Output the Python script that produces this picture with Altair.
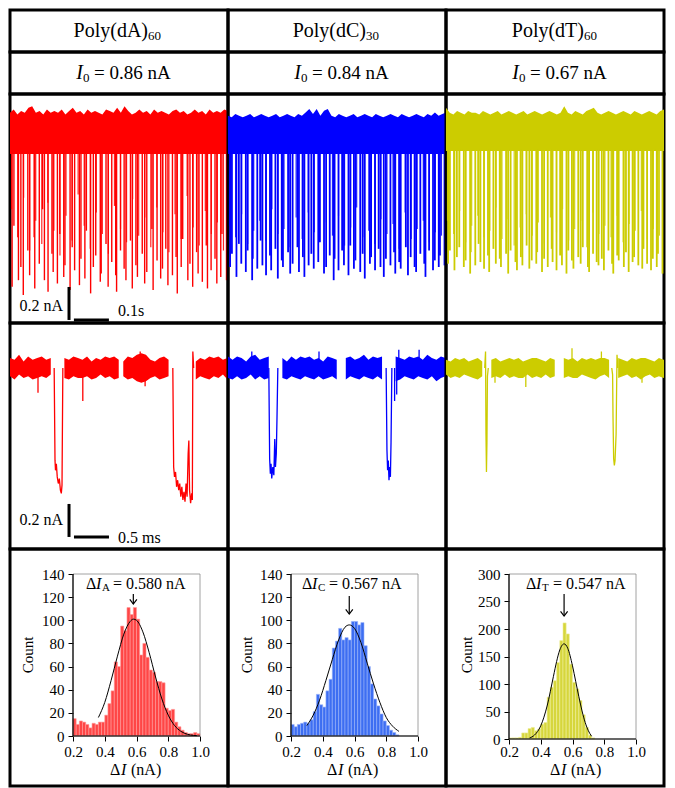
import altair as alt
import pandas as pd

FONT = "Liberation Serif"
TRACE_COLORS = ["#FF0000", "#0000FF", "#CCCC00"]
BAR_FILL = ["#FF4646", "#3D6EF2", "#D6D63C"]
BAR_EDGE = ["#FF9A9A", "#9AB4F8", "#EEEE9A"]

# ---------------- text ----------------
names = ["Poly(dA)", "Poly(dC)", "Poly(dT)"]
name_subs = ["60", "30", "60"]
i0_text = ["= 0.86 nA", "= 0.84 nA", "= 0.67 nA"]
dI_subs = ["A", "C", "T"]
dI_text = ["= 0.580 nA", "= 0.567 nA", "= 0.547 nA"]
dI_mean = [0.580, 0.567, 0.547]

# ---------------- row 3 : long traces (nA relative to open pore) ----------------
band_top = [0.115, 0.097, 0.115]
band_bot = [-0.115, -0.115, -0.097]
red_depth = [0.92, 0.55, 0.88, 0.80, 0.97, 0.70, 0.85, 0.62, 0.93, 0.78, 0.45, 0.88,
             0.95, 0.72, 0.83, 0.90, 0.60, 0.86, 0.79, 0.94, 0.68, 0.82, 0.91, 0.75,
             0.87, 0.58, 0.96, 0.80, 0.73, 0.89, 0.84, 0.66, 0.92, 0.77, 0.85, 0.95,
             0.70, 0.81, 0.88, 0.64, 0.93, 0.79, 0.86, 0.72, 0.90, 0.83, 0.57, 0.94,
             0.76, 0.87, 0.81, 0.69, 0.91, 0.85, 0.74, 0.96, 0.80, 0.63, 0.88, 0.78,
             0.92, 0.71, 0.84, 0.89, 0.67, 0.93, 0.82, 0.75, 0.90, 0.86, 0.60, 0.88]
blue_depth = [0.80, 0.72, 0.86, 0.66, 0.78, 0.83, 0.70, 0.88, 0.75, 0.81, 0.64, 0.79,
              0.85, 0.73, 0.82, 0.69, 0.87, 0.76, 0.80, 0.71, 0.84, 0.78, 0.68, 0.83,
              0.74, 0.86, 0.79, 0.72, 0.81, 0.77, 0.65, 0.84, 0.80, 0.73, 0.88, 0.75,
              0.82, 0.70, 0.79, 0.85, 0.67, 0.81, 0.76, 0.83, 0.72, 0.87, 0.78, 0.74,
              0.82, 0.69, 0.80, 0.86, 0.75, 0.79, 0.71, 0.84, 0.77, 0.81, 0.68, 0.85,
              0.74, 0.80, 0.83, 0.72, 0.78, 0.86, 0.70, 0.82, 0.76, 0.80, 0.73, 0.79]
yel_depth = [0.78, 0.70, 0.82, 0.74, 0.68, 0.80, 0.76, 0.84, 0.71, 0.79, 0.66, 0.77,
             0.81, 0.73, 0.83, 0.69, 0.78, 0.75, 0.80, 0.72, 0.84, 0.70, 0.77, 0.82,
             0.74, 0.79, 0.67, 0.81, 0.76, 0.78, 0.71, 0.83, 0.75, 0.80, 0.69, 0.77,
             0.82, 0.73, 0.79, 0.84, 0.70, 0.76, 0.81, 0.74, 0.78, 0.68, 0.80, 0.83,
             0.72, 0.77, 0.79, 0.75, 0.82, 0.70, 0.78, 0.84, 0.73, 0.76, 0.80, 0.71,
             0.83, 0.77, 0.74, 0.79, 0.81, 0.69, 0.78, 0.82, 0.75, 0.80, 0.72, 0.84]
spike_shift = [0.1, -0.3, 0.2, 0.0, -0.2, 0.3, -0.1, 0.4, -0.4, 0.1, 0.2, -0.2,
               0.0, 0.3, -0.3, 0.1, -0.1, 0.2, -0.4, 0.3, 0.0, -0.2, 0.4, -0.1,
               0.2, -0.3, 0.1, 0.0, -0.2, 0.3, -0.4, 0.2, -0.1, 0.1, 0.4, -0.3,
               0.0, 0.2, -0.2, 0.3, -0.1, 0.1, -0.4, 0.2, 0.0, -0.3, 0.4, -0.2,
               0.1, 0.3, -0.1, 0.0, -0.3, 0.2, 0.4, -0.2, 0.1, -0.4, 0.3, 0.0,
               -0.1, 0.2, -0.3, 0.1, 0.4, -0.2, 0.0, 0.3, -0.1, 0.2, -0.4, 0.1]
red_short = [0.45, 0.62, 0.38, 0.70, 0.52, 0.66, 0.41, 0.58, 0.73, 0.49, 0.64, 0.36,
             0.55, 0.69, 0.47, 0.60, 0.72, 0.43, 0.57, 0.65, 0.39, 0.61, 0.50, 0.68,
             0.44, 0.59, 0.71, 0.48, 0.63, 0.37, 0.56, 0.67, 0.46, 0.60, 0.53, 0.70]
blue_short = [0.55, 0.62, 0.48, 0.66, 0.58, 0.52, 0.64, 0.45, 0.60, 0.57, 0.68, 0.50,
              0.63, 0.47, 0.59, 0.65, 0.53, 0.61, 0.49, 0.67, 0.56, 0.44, 0.62, 0.58,
              0.66, 0.51, 0.60, 0.54, 0.69, 0.47, 0.63, 0.57, 0.52, 0.65, 0.59, 0.61]
yel_short = [0.52, 0.60, 0.46, 0.65, 0.55, 0.49, 0.62, 0.58, 0.44, 0.63, 0.51, 0.67,
             0.56, 0.48, 0.61, 0.53, 0.66, 0.50, 0.59, 0.45, 0.64, 0.57, 0.52, 0.68,
             0.47, 0.60, 0.55, 0.62, 0.49, 0.65, 0.54, 0.58, 0.46, 0.63, 0.57, 0.61]
red_edge = [0.02, 0.04, 0.01, 0.03, 0.02, 0.05, 0.06, 0.02, 0.03, 0.01, 0.04, 0.02,
            0.03, 0.02, 0.04, 0.01, 0.03, 0.05, 0.02, 0.03, 0.01, 0.04, 0.02, 0.03,
            0.02, 0.01, 0.04, 0.03, 0.02, 0.05, 0.02, 0.06, 0.03, 0.01, 0.02, 0.04,
            0.02, 0.03, 0.01, 0.04, 0.02, 0.03, 0.02, 0.01, 0.03, 0.04, 0.02, 0.03,
            0.01, 0.02, 0.04, 0.02, 0.03, 0.01, 0.04, 0.02, 0.03, 0.02, 0.04, 0.03]
blue_edge = [0.02, 0.01, 0.03, 0.02, 0.01, 0.02, 0.03, 0.01, 0.02, 0.03, 0.02, 0.01,
             0.02, 0.03, 0.01, 0.02, 0.03, 0.02, 0.01, 0.03, 0.02, 0.04, 0.06, 0.03,
             0.06, 0.02, 0.05, 0.06, 0.02, 0.01, 0.03, 0.02, 0.01, 0.02, 0.03, 0.01,
             0.02, 0.03, 0.02, 0.01, 0.03, 0.02, 0.01, 0.02, 0.03, 0.02, 0.01, 0.03,
             0.02, 0.01, 0.02, 0.03, 0.02, 0.01, 0.03, 0.02, 0.04, 0.02, 0.03, 0.04]
yel_edge = [0.05, 0.02, 0.01, 0.03, 0.02, 0.01, 0.03, 0.02, 0.02, 0.01, 0.03, 0.02,
            0.01, 0.02, 0.03, 0.01, 0.02, 0.03, 0.02, 0.01, 0.02, 0.03, 0.01, 0.02,
            0.03, 0.02, 0.01, 0.02, 0.03, 0.02, 0.01, 0.02, 0.06, 0.02, 0.01, 0.03,
            0.02, 0.01, 0.03, 0.04, 0.05, 0.02, 0.01, 0.02, 0.03, 0.02, 0.01, 0.02,
            0.03, 0.02, 0.01, 0.03, 0.02, 0.01, 0.02, 0.03, 0.02, 0.01, 0.03, 0.04]
spike_depths = [red_depth, blue_depth, yel_depth]
short_depths = [red_short, blue_short, yel_short]
band_edges = [red_edge, blue_edge, yel_edge]
spike_width = [1.4, 1.8, 1.8]

# scale bars (values: 0.2 nA / 0.1 s and 0.2 nA / 0.5 ms)
sb_na = 0.2
sb_s = 0.1
sb_ms = 0.5

# ---------------- row 4 : single events (ms, nA) ----------------
red_hi = [0.06, 0.05, 0.08, 0.04, 0.07, 0.05, 0.06, 0.07, 0.05, 0.06,
          0.04, 0.07, 0.06, 0.05, 0.07, 0.06, 0.05, 0.07, 0.04, 0.06,
          0.05, 0.07, 0.06, 0.07, 0.05, 0.04, 0.07, 0.06, 0.08, 0.09,
          0.08, 0.05, 0.04, 0.06, 0.07, 0.05, 0.06, 0.07, 0.05, 0.07,
          0.06, 0.04, 0.06, 0.05, 0.07, 0.06, 0.07, 0.05, 0.06, 0.07]
red_lo = [-0.05, -0.07, -0.04, -0.06, -0.05, -0.07, -0.06, -0.05, -0.06, -0.04,
          -0.07, -0.05, -0.06, -0.07, -0.05, -0.06, -0.06, -0.05, -0.07, -0.06,
          -0.04, -0.06, -0.05, -0.07, -0.06, -0.05, -0.07, -0.06, -0.08, -0.09,
          -0.08, -0.06, -0.05, -0.07, -0.06, -0.05, -0.06, -0.04, -0.07, -0.05,
          -0.06, -0.07, -0.05, -0.06, -0.07, -0.05, -0.06, -0.04, -0.07, -0.05]
blue_hi = [0.07, 0.05, 0.07, 0.06, 0.04, 0.07, 0.08, 0.05, 0.06, 0.07,
           0.05, 0.07, 0.06, 0.04, 0.07, 0.05, 0.07, 0.06, 0.07, 0.05,
           0.06, 0.04, 0.07, 0.06, 0.05, 0.07, 0.06, 0.07, 0.05, 0.06,
           0.08, 0.05, 0.07, 0.06, 0.07, 0.08, 0.05, 0.07, 0.06, 0.05,
           0.07, 0.06, 0.07, 0.05, 0.08, 0.06, 0.05, 0.07, 0.06, 0.07]
blue_lo = [-0.06, -0.07, -0.05, -0.07, -0.06, -0.04, -0.07, -0.05, -0.07, -0.06,
           -0.05, -0.07, -0.06, -0.07, -0.05, -0.06, -0.07, -0.05, -0.06, -0.07,
           -0.05, -0.07, -0.06, -0.05, -0.07, -0.06, -0.07, -0.05, -0.06, -0.07,
           -0.05, -0.06, -0.07, -0.05, -0.07, -0.06, -0.07, -0.08, -0.07, -0.05,
           -0.06, -0.07, -0.05, -0.06, -0.07, -0.05, -0.08, -0.06, -0.05, -0.07]
yel_hi = [0.05, 0.04, 0.06, 0.05, 0.06, 0.04, 0.05, 0.06, 0.04, 0.06,
          0.05, 0.06, 0.04, 0.05, 0.06, 0.05, 0.06, 0.04, 0.05, 0.06,
          0.06, 0.05, 0.04, 0.06, 0.05, 0.06, 0.06, 0.05, 0.06, 0.04,
          0.06, 0.05, 0.06, 0.05, 0.06, 0.06, 0.05, 0.06, 0.06, 0.05,
          0.04, 0.06, 0.05, 0.06, 0.06, 0.05, 0.04, 0.06, 0.05, 0.06]
yel_lo = [-0.04, -0.06, -0.05, -0.06, -0.04, -0.05, -0.06, -0.07, -0.05, -0.04,
          -0.06, -0.05, -0.06, -0.04, -0.06, -0.05, -0.06, -0.06, -0.04, -0.06,
          -0.05, -0.06, -0.04, -0.06, -0.05, -0.04, -0.06, -0.05, -0.06, -0.06,
          -0.04, -0.05, -0.06, -0.07, -0.05, -0.04, -0.06, -0.05, -0.06, -0.05,
          -0.04, -0.06, -0.05, -0.07, -0.05, -0.04, -0.06, -0.05, -0.06, -0.05]
# isolated noise spikes on the baseline (time ms, current nA)
red_glitch_t = [0.40, 1.04, 1.86, 1.93]
red_glitch_i = [-0.15, -0.20, 0.10, -0.11]
blue_glitch_t = [0.34, 1.30, 2.38, 2.41, 2.44, 2.73]
blue_glitch_i = [0.10, 0.10, -0.20, -0.16, 0.11, 0.11]
yel_glitch_t = [0.70, 1.14, 1.80, 2.22, 2.80]
yel_glitch_i = [-0.09, -0.115, 0.12, 0.10, -0.09]
glitches = [(red_glitch_t, red_glitch_i), (blue_glitch_t, blue_glitch_i), (yel_glitch_t, yel_glitch_i)]
red_ev1_t = [0.643, 0.650, 0.662, 0.675, 0.690, 0.705, 0.720, 0.733, 0.743]
red_ev1_i = [-0.56, -0.62, -0.58, -0.66, -0.70, -0.67, -0.74, -0.76, -0.71]
red_ev2_t = [2.338, 2.350, 2.365, 2.380, 2.395, 2.410, 2.425, 2.440, 2.455, 2.470, 2.485,
             2.500, 2.515, 2.530, 2.545, 2.555, 2.565, 2.580, 2.595, 2.605, 2.612]
red_ev2_i = [-0.60, -0.66, -0.63, -0.72, -0.68, -0.74, -0.70, -0.78, -0.72, -0.80, -0.75,
             -0.81, -0.70, -0.78, -0.52, -0.44, -0.74, -0.82, -0.76, -0.80, 0.10]
blue_ev1_t = [0.595, 0.605, 0.615, 0.625, 0.640, 0.655, 0.668, 0.678, 0.690, 0.700]
blue_ev1_i = [-0.55, -0.64, -0.58, -0.67, -0.60, -0.65, -0.43, -0.60, -0.52, -0.30]
blue_ev2_t = [2.271, 2.280, 2.290, 2.300, 2.310, 2.320, 2.329]
blue_ev2_i = [-0.50, -0.62, -0.56, -0.68, -0.60, -0.66, -0.45]
yel_ev1_t = [0.565, 0.571, 0.578, 0.585, 0.592]
yel_ev1_i = [0.10, -0.40, -0.63, -0.45, -0.05]
yel_ev2_t = [2.380, 2.386, 2.395, 2.405, 2.415, 2.430, 2.443]
yel_ev2_i = [-0.04, -0.30, -0.55, -0.59, -0.56, -0.40, 0.08]
trace_gaps = [[1.57, 1.61], [1.557, 1.657], [1.585, 1.625]]
noise_hi = [red_hi, blue_hi, yel_hi]
noise_lo = [red_lo, blue_lo, yel_lo]
events = [[(red_ev1_t, red_ev1_i), (red_ev2_t, red_ev2_i)],
          [(blue_ev1_t, blue_ev1_i), (blue_ev2_t, blue_ev2_i)],
          [(yel_ev1_t, yel_ev1_i), (yel_ev2_t, yel_ev2_i)]]

# ---------------- row 5 : histograms ----------------
bin_start = [0.20, 0.22, 0.24, 0.26, 0.28, 0.30, 0.32, 0.34, 0.36, 0.38,
             0.40, 0.42, 0.44, 0.46, 0.48, 0.50, 0.52, 0.54, 0.56, 0.58,
             0.60, 0.62, 0.64, 0.66, 0.68, 0.70, 0.72, 0.74, 0.76, 0.78,
             0.80, 0.82, 0.84, 0.86, 0.88, 0.90, 0.92, 0.94, 0.96, 0.98]
bin_width = 0.02
red_counts = [15, 10, 13, 12, 10, 7, 11, 10, 12, 12, 18, 28, 39, 64, 60, 95, 91, 111, 105, 111,
              101, 70, 80, 68, 57, 55, 47, 47, 46, 24, 22, 23, 12, 8, 5, 3, 2, 2, 3, 2]
blue_counts = [10, 8, 10, 11, 12, 11, 14, 21, 36, 27, 25, 39, 49, 76, 82, 93, 83, 85, 83, 99,
               99, 96, 98, 78, 60, 45, 32, 26, 19, 13, 9, 5, 3, 1]
yel_counts = [2, 2, 2, 3, 11, 11, 19, 21, 15, 18, 27, 30, 76, 94, 106, 139, 179, 211, 191, 136,
              103, 91, 70, 44, 21, 7, 2]
red_fit_x = [0.36, 0.40, 0.44, 0.48, 0.52, 0.56, 0.58, 0.60, 0.64, 0.68, 0.72, 0.76, 0.80, 0.84, 0.88, 0.92, 0.96, 0.98]
red_fit_y = [16, 29, 48, 69, 88, 99, 101, 100, 90, 72, 51, 32, 18, 9, 4, 1.5, 0.5, 0.3]
blue_fit_x = [0.30, 0.34, 0.38, 0.42, 0.46, 0.50, 0.54, 0.567, 0.60, 0.64, 0.68, 0.72, 0.76, 0.80, 0.84, 0.88]
blue_fit_y = [9, 18, 31, 48, 66, 83, 94, 96, 93, 81, 63, 45, 29, 16, 8.5, 4]
yel_fit_x = [0.33, 0.36, 0.40, 0.44, 0.48, 0.50, 0.52, 0.547, 0.57, 0.60, 0.62, 0.64, 0.66, 0.68, 0.70, 0.72]
yel_fit_y = [2, 7, 24, 60, 114, 141, 162, 173, 165, 133, 105, 77, 51, 30, 15, 5]
x_ticks = [0.2, 0.4, 0.6, 0.8, 1.0]
y_ticks = [[0, 20, 40, 60, 80, 100, 120, 140], [0, 20, 40, 60, 80, 100, 120, 140],
           [0, 50, 100, 150, 200, 250, 300]]
hist_counts = [red_counts, blue_counts, yel_counts]
fits = [(red_fit_x, red_fit_y), (blue_fit_x, blue_fit_y), (yel_fit_x, yel_fit_y)]

# ---------------- layout (pixels) ----------------
W = 218
H_HEAD, H_I0, H_TR, H_EV, H_HIST = 42, 42, 229, 226, 237
NA_PX = 165.0          # px per nA
TR_BASE = 41           # baseline position in trace cell
EV_BASE = 45
S_PX = 350.0           # px per second (row 3)
MS_PX = 70.0           # px per ms (row 4)
PLOT_L, PLOT_R, PLOT_T = 63, 190, 25
PLOT_B = [187, 187, 190]
XLAB_PAD = [3, 3, 0]
ann_left = [76, 74, 80]
arrow_px = [(45, 55), (47, 65), (45, 67)]
xtitle_c = [125, 124, 129]
count_x = [18, 19, 21]


def txt(s, x, y, size, align="left", style="normal", dy=0, angle=0):
    return alt.Chart(pd.DataFrame({"s": [s]})).mark_text(
        font=FONT, fontSize=size, fontStyle=style, align=align, baseline="middle",
        dy=dy, angle=angle, color="black").encode(text="s:N", x=alt.value(x), y=alt.value(y))


def header_cell(i):
    c = W / 2
    return alt.layer(
        txt(names[i], c + 29, H_HEAD / 2, 20, "right"),
        txt(name_subs[i], c + 29, H_HEAD / 2, 13, "left", dy=5),
    ).properties(width=W, height=H_HEAD)


def i0_cell(i):
    c = W / 2
    return alt.layer(
        txt("I", c - 36, H_I0 / 2, 20, "right", "italic"),
        txt("0", c - 36, H_I0 / 2, 13, "left", dy=5),
        txt(i0_text[i], c - 25, H_I0 / 2, 19, "left"),
    ).properties(width=W, height=H_I0)


def trace_cell(i):
    color = TRACE_COLORS[i]
    ys = alt.Scale(domain=[-(H_TR - TR_BASE) / NA_PX, TR_BASE / NA_PX], nice=False, zero=False)
    depth = spike_depths[i]
    short = short_depths[i]
    edge = band_edges[i]
    ed = pd.DataFrame({"j": list(range(len(edge))), "top": [band_top[i] + e for e in edge],
                       "bot": [band_bot[i]] * len(edge)})
    band = alt.Chart(ed).mark_area(color=color, opacity=1).encode(
        x=alt.X("j:Q", scale=alt.Scale(domain=[0, len(edge) - 1], nice=False, zero=False), axis=None),
        y=alt.Y("top:Q", scale=ys, axis=None), y2="bot:Q")
    sp = pd.DataFrame({"k": [k + spike_shift[k % len(spike_shift)] for k in range(len(depth))],
                       "lo": [-d for d in depth],
                       "hi": [band_bot[i] + 0.01] * len(depth)})
    spikes = alt.Chart(sp).mark_rule(color=color, strokeWidth=spike_width[i]).encode(
        x=alt.X("k:Q", scale=alt.Scale(domain=[-0.6, len(depth) - 0.4], nice=False, zero=False), axis=None),
        y=alt.Y("hi:Q", scale=ys, axis=None), y2="lo:Q")
    sh = pd.DataFrame({"m": list(range(len(short))), "lo": [-d for d in short],
                       "hi": [band_bot[i] + 0.01] * len(short)})
    shorts = alt.Chart(sh).mark_rule(color=color, strokeWidth=1.2, opacity=0.85).encode(
        x=alt.X("m:Q", scale=alt.Scale(domain=[-0.25, len(short) - 0.25], nice=False, zero=False), axis=None),
        y=alt.Y("hi:Q", scale=ys, axis=None), y2="lo:Q")
    layers = [band, spikes, shorts]
    if i == 0:
        ts = alt.Scale(domain=[0, W / S_PX], nice=False, zero=False)
        t0, y0 = 0.1686, -1.121
        bars = pd.DataFrame({"x": [t0, t0 + 0.014], "x2": [t0, t0 + 0.014 + sb_s],
                             "y": [y0, y0], "y2": [y0 + sb_na, y0]})
        layers.append(alt.Chart(bars).mark_rule(color="black", strokeWidth=3).encode(
            x=alt.X("x:Q", scale=ts, axis=None), x2="x2:Q",
            y=alt.Y("y:Q", scale=ys, axis=None), y2="y2:Q"))
        lab = pd.DataFrame({"x": [t0 - 0.017], "y": [y0 + 0.085], "s": ["0.2 nA"]})
        layers.append(alt.Chart(lab).mark_text(font=FONT, fontSize=16, align="right", baseline="middle",
                                               color="black").encode(
            x=alt.X("x:Q", scale=ts, axis=None), y=alt.Y("y:Q", scale=ys, axis=None), text="s:N"))
        lab2 = pd.DataFrame({"x": [t0 + 0.14], "y": [y0 + 0.054], "s": ["0.1s"]})
        layers.append(alt.Chart(lab2).mark_text(font=FONT, fontSize=16, align="left", baseline="middle",
                                                color="black").encode(
            x=alt.X("x:Q", scale=ts, axis=None), y=alt.Y("y:Q", scale=ys, axis=None), text="s:N"))
    return alt.layer(*layers).resolve_scale(x="independent").properties(width=W, height=H_TR)


def event_frames(i):
    hi, lo = noise_hi[i], noise_lo[i]
    m = len(hi)
    span = 222 / MS_PX
    windows = [(e_t[0] - 0.012, e_t[-1] + 0.012) for e_t, _ in events[i]] + [tuple(trace_gaps[i])]
    windows.sort()
    rows = []
    for p in range(m):
        t = p * span / (m - 1)
        if any(a <= t <= b for a, b in windows):
            continue
        seg = sum(1 for a, b in windows if t > b)
        rows.append({"t": t, "hi": hi[p], "lo": lo[p], "seg": seg})
    ev_rows = []
    for n_e, (e_t, e_v) in enumerate(events[i]):
        seq = [(e_t[0] - 0.012, 0.0)] + list(zip(e_t, e_v)) + [(e_t[-1] + 0.012, 0.0)]
        for o, (t, v) in enumerate(seq):
            ev_rows.append({"t": t, "v": v, "e": n_e, "o": o})
    g_t, g_i = glitches[i]
    gl = pd.DataFrame({"t": g_t, "v": g_i, "z": [0.0] * len(g_t)})
    return pd.DataFrame(rows), pd.DataFrame(ev_rows), gl


def event_cell(i):
    color = TRACE_COLORS[i]
    xs = alt.Scale(domain=[0, W / MS_PX], nice=False, zero=False)
    ys = alt.Scale(domain=[-(H_EV - EV_BASE) / NA_PX, EV_BASE / NA_PX], nice=False, zero=False)
    base_df, ev_df, gl_df = event_frames(i)
    base = alt.Chart(base_df).mark_area(color=color, opacity=1, clip=True).encode(
        x=alt.X("t:Q", scale=xs, axis=None), y=alt.Y("hi:Q", scale=ys, axis=None), y2="lo:Q",
        detail="seg:N")
    evl = alt.Chart(ev_df).mark_line(color=color, strokeWidth=1.3).encode(
        x=alt.X("t:Q", scale=xs, axis=None), y=alt.Y("v:Q", scale=ys, axis=None),
        detail="e:N", order="o:Q")
    gls = alt.Chart(gl_df).mark_rule(color=color, strokeWidth=1.3).encode(
        x=alt.X("t:Q", scale=xs, axis=None), y=alt.Y("z:Q", scale=ys, axis=None), y2="v:Q")
    layers = [base, evl, gls]
    if i == 0:
        t0, y0 = 0.843, -1.024
        bars = pd.DataFrame({"x": [t0, t0 + 0.071], "x2": [t0, t0 + 0.071 + sb_ms],
                             "y": [y0, y0], "y2": [y0 + sb_na, y0]})
        layers.append(alt.Chart(bars).mark_rule(color="black", strokeWidth=3).encode(
            x=alt.X("x:Q", scale=xs, axis=None), x2="x2:Q",
            y=alt.Y("y:Q", scale=ys, axis=None), y2="y2:Q"))
        lab = pd.DataFrame({"x": [0.757, 1.543], "y": [-0.921, -1.03], "s": ["0.2 nA", "0.5 ms"]})
        layers.append(alt.Chart(lab.iloc[[0]]).mark_text(font=FONT, fontSize=16, align="right",
                                                         baseline="middle", color="black").encode(
            x=alt.X("x:Q", scale=xs, axis=None), y=alt.Y("y:Q", scale=ys, axis=None), text="s:N"))
        layers.append(alt.Chart(lab.iloc[[1]]).mark_text(font=FONT, fontSize=16, align="left",
                                                         baseline="middle", color="black").encode(
            x=alt.X("x:Q", scale=xs, axis=None), y=alt.Y("y:Q", scale=ys, axis=None), text="s:N"))
    return alt.layer(*layers).properties(width=W, height=H_EV)


def hist_cell(i):
    counts = hist_counts[i]
    yt = y_ticks[i]
    ymax = yt[-1]
    pb = PLOT_B[i]
    pxx = (PLOT_R - PLOT_L) / (x_ticks[-1] - x_ticks[0])
    xdom = [x_ticks[0] - PLOT_L / pxx, x_ticks[-1] + (W - PLOT_R) / pxx]
    pxy = (pb - PLOT_T) / ymax
    ydom = [-(H_HIST - pb) / pxy, ymax + PLOT_T / pxy]
    xs = alt.Scale(domain=xdom, nice=False, zero=False)
    ys = alt.Scale(domain=ydom, nice=False, zero=False)
    xax = alt.Axis(values=x_ticks, format=".1f", orient="bottom", offset=-(H_HIST - pb), domain=False,
                   grid=False, tickSize=5, tickColor="black", tickWidth=1, labelFont=FONT,
                   labelFontSize=15, labelColor="black", labelPadding=XLAB_PAD[i], labelFlush=False,
                   labelOverlap=False, title=None)
    yax = alt.Axis(values=yt, orient="left", offset=-PLOT_L, domain=False, grid=False, tickSize=5,
                   tickColor="black", tickWidth=1, labelFont=FONT, labelFontSize=15, labelColor="black",
                   labelPadding=4, labelFlush=False, labelOverlap=False, title=None)
    bdf = pd.DataFrame({"x": bin_start[:len(counts)],
                        "x2": [b + bin_width for b in bin_start[:len(counts)]],
                        "y": counts, "y2": [0] * len(counts)})
    bars = alt.Chart(bdf).mark_rect(fill=BAR_FILL[i], stroke=BAR_EDGE[i], strokeWidth=0.6).encode(
        x=alt.X("x:Q", scale=xs, axis=xax), x2="x2:Q", y=alt.Y("y:Q", scale=ys, axis=yax), y2="y2:Q")
    frame = alt.Chart(pd.DataFrame({"x": [x_ticks[0]], "x2": [x_ticks[-1]], "y": [0], "y2": [ymax]})).mark_rect(
        fillOpacity=0, stroke="#8c8c8c", strokeWidth=0.8).encode(
        x=alt.X("x:Q", scale=xs, axis=xax), x2="x2:Q", y=alt.Y("y:Q", scale=ys, axis=yax), y2="y2:Q")
    axl = pd.DataFrame({"x": [x_ticks[0], x_ticks[0]], "x2": [x_ticks[0], x_ticks[-1]],
                        "y": [0, 0], "y2": [ymax, 0]})
    axlines = alt.Chart(axl).mark_rule(color="black", strokeWidth=1.2).encode(
        x=alt.X("x:Q", scale=xs, axis=xax), x2="x2:Q", y=alt.Y("y:Q", scale=ys, axis=yax), y2="y2:Q")
    fx, fy = fits[i]
    fit = alt.Chart(pd.DataFrame({"x": fx, "y": fy})).mark_line(
        color="black", strokeWidth=1, interpolate="monotone").encode(
        x=alt.X("x:Q", scale=xs, axis=xax), y=alt.Y("y:Q", scale=ys, axis=yax))
    a0, a1 = arrow_px[i]
    mdf = pd.DataFrame({"x": [dI_mean[i]]})
    arrow = alt.Chart(mdf).mark_rule(color="black", strokeWidth=1.2).encode(
        x=alt.X("x:Q", scale=xs, axis=xax), y=alt.value(a0), y2=alt.value(a1))
    head = alt.Chart(mdf).mark_point(shape="M-1,-1.3L0,0L1,-1.3", filled=False, color="black",
                                     strokeWidth=1.2, size=50, opacity=1).encode(
        x=alt.X("x:Q", scale=xs, axis=xax), y=alt.value(a1))
    x0 = ann_left[i]
    ann = [txt("\u0394", x0, 35, 16), txt("I", x0 + 10, 35, 16, style="italic"),
           txt(dI_subs[i], x0 + 16, 35, 11, dy=4), txt(dI_text[i], x0 + 27, 35, 16)]
    s = xtitle_c[i] - 25
    xt = [txt("\u0394", s, 221, 16), txt("I", s + 11, 221, 16, style="italic"),
          txt("(nA)", s + 21, 221, 16)]
    cnt = txt("Count", count_x[i], 106, 15, "center", angle=270)
    return alt.layer(bars, frame, axlines, fit, arrow, head, *ann, *xt, cnt).properties(
        width=W, height=H_HIST)


cells = ([header_cell(i) for i in range(3)] + [i0_cell(i) for i in range(3)] +
         [trace_cell(i) for i in range(3)] + [event_cell(i) for i in range(3)] +
         [hist_cell(i) for i in range(3)])

chart = alt.concat(*cells, columns=3, spacing=0, bounds="flush").properties(padding=0).configure_view(
    stroke="black", strokeWidth=3)

chart.save("out.html", embed_options={"renderer": "svg", "actions": False})
